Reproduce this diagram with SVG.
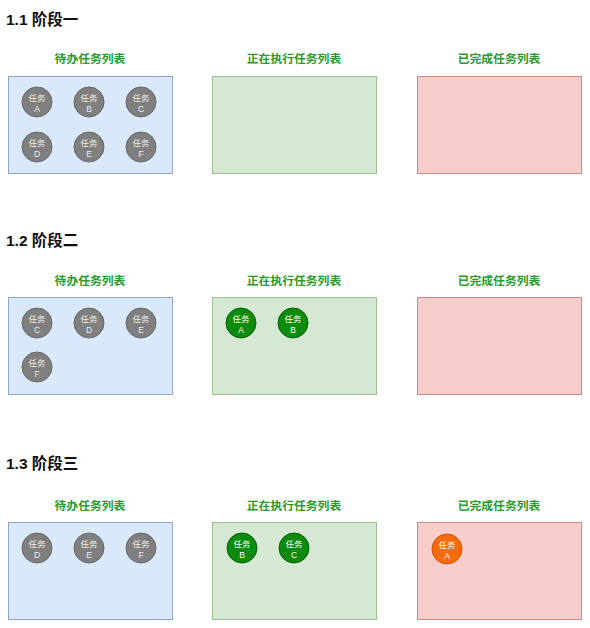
<svg xmlns="http://www.w3.org/2000/svg" width="590" height="628" viewBox="0 0 590 628">
<style>
.h{font-family:"Liberation Sans","Noto Sans CJK SC",sans-serif;font-size:15.5px;font-weight:bold;fill:#111}
.lb{font-family:"Noto Sans CJK SC",sans-serif;font-size:11.8px;font-weight:bold;fill:#2a9a2a;text-anchor:middle}
.todo{fill:#dae8fc;stroke:#8ea6cc;stroke-width:1}
.run{fill:#d5e8d4;stroke:#9cbf8e;stroke-width:1}
.done{fill:#f8cecc;stroke:#c98a88;stroke-width:1}
.g{fill:#7f7f7f;stroke:#666;stroke-width:1}
.gr{fill:#0b8a0b;stroke:#066006;stroke-width:1}
.or{fill:#f56a0a;stroke:#d45500;stroke-width:1}
.t,.tw{font-family:"Noto Sans CJK SC",sans-serif;font-size:8.5px;text-anchor:middle}
.t{fill:#eeeeee}
.tw{fill:#ffffff}
.l{font-family:"Liberation Sans",sans-serif}
</style>
<rect width="590" height="628" fill="#ffffff"/>
<text class="h" x="6" y="25">1.1 阶段一</text>
<text class="h" x="6" y="246">1.2 阶段二</text>
<text class="h" x="6" y="469">1.3 阶段三</text>

<g id="stage1">
<text class="lb" x="90" y="63">待办任务列表</text>
<text class="lb" x="294" y="63">正在执行任务列表</text>
<text class="lb" x="499" y="63">已完成任务列表</text>
<rect id="s1-todo" class="todo" x="8.5" y="76.5" width="164" height="97"/>
<rect id="s1-run" class="run" x="212.5" y="76.5" width="164" height="97"/>
<rect id="s1-done" class="done" x="417.5" y="76.5" width="164" height="97"/>
<g id="s1-A"><circle class="g" cx="37" cy="102" r="15"/><text class="t" x="37" y="101">任务</text><text class="t l" x="37" y="112">A</text></g>
<g id="s1-B"><circle class="g" cx="89" cy="102" r="15"/><text class="t" x="89" y="101">任务</text><text class="t l" x="89" y="112">B</text></g>
<g id="s1-C"><circle class="g" cx="141" cy="102" r="15"/><text class="t" x="141" y="101">任务</text><text class="t l" x="141" y="112">C</text></g>
<g id="s1-D"><circle class="g" cx="37" cy="147" r="15"/><text class="t" x="37" y="146">任务</text><text class="t l" x="37" y="157">D</text></g>
<g id="s1-E"><circle class="g" cx="89" cy="147" r="15"/><text class="t" x="89" y="146">任务</text><text class="t l" x="89" y="157">E</text></g>
<g id="s1-F"><circle class="g" cx="141" cy="147" r="15"/><text class="t" x="141" y="146">任务</text><text class="t l" x="141" y="157">F</text></g>
</g>

<g id="stage2">
<text class="lb" x="90" y="285">待办任务列表</text>
<text class="lb" x="294" y="285">正在执行任务列表</text>
<text class="lb" x="499" y="285">已完成任务列表</text>
<rect id="s2-todo" class="todo" x="8.5" y="297.5" width="164" height="97"/>
<rect id="s2-run" class="run" x="212.5" y="297.5" width="164" height="97"/>
<rect id="s2-done" class="done" x="417.5" y="297.5" width="164" height="97"/>
<g id="s2-C"><circle class="g" cx="37" cy="323" r="15"/><text class="t" x="37" y="322">任务</text><text class="t l" x="37" y="333">C</text></g>
<g id="s2-D"><circle class="g" cx="89" cy="323" r="15"/><text class="t" x="89" y="322">任务</text><text class="t l" x="89" y="333">D</text></g>
<g id="s2-E"><circle class="g" cx="141" cy="323" r="15"/><text class="t" x="141" y="322">任务</text><text class="t l" x="141" y="333">E</text></g>
<g id="s2-F"><circle class="g" cx="37" cy="367" r="15"/><text class="t" x="37" y="366">任务</text><text class="t l" x="37" y="377">F</text></g>
<g id="s2-A"><circle class="gr" cx="241" cy="323" r="15"/><text class="tw" x="241" y="322">任务</text><text class="tw l" x="241" y="333">A</text></g>
<g id="s2-B"><circle class="gr" cx="293" cy="323" r="15"/><text class="tw" x="293" y="322">任务</text><text class="tw l" x="293" y="333">B</text></g>
</g>

<g id="stage3">
<text class="lb" x="90" y="510">待办任务列表</text>
<text class="lb" x="294" y="510">正在执行任务列表</text>
<text class="lb" x="499" y="510">已完成任务列表</text>
<rect id="s3-todo" class="todo" x="8.5" y="522.5" width="164" height="97"/>
<rect id="s3-run" class="run" x="212.5" y="522.5" width="164" height="97"/>
<rect id="s3-done" class="done" x="417.5" y="522.5" width="164" height="97"/>
<g id="s3-D"><circle class="g" cx="37" cy="548" r="15"/><text class="t" x="37" y="547">任务</text><text class="t l" x="37" y="558">D</text></g>
<g id="s3-E"><circle class="g" cx="89" cy="548" r="15"/><text class="t" x="89" y="547">任务</text><text class="t l" x="89" y="558">E</text></g>
<g id="s3-F"><circle class="g" cx="141" cy="548" r="15"/><text class="t" x="141" y="547">任务</text><text class="t l" x="141" y="558">F</text></g>
<g id="s3-B"><circle class="gr" cx="242" cy="548" r="15"/><text class="tw" x="242" y="547">任务</text><text class="tw l" x="242" y="558">B</text></g>
<g id="s3-C"><circle class="gr" cx="294" cy="548" r="15"/><text class="tw" x="294" y="547">任务</text><text class="tw l" x="294" y="558">C</text></g>
<g id="s3-A"><circle class="or" cx="447" cy="549" r="15"/><text class="tw" x="447" y="548">任务</text><text class="tw l" x="447" y="559">A</text></g>
</g>
<g id="connectors"/>
</svg>
